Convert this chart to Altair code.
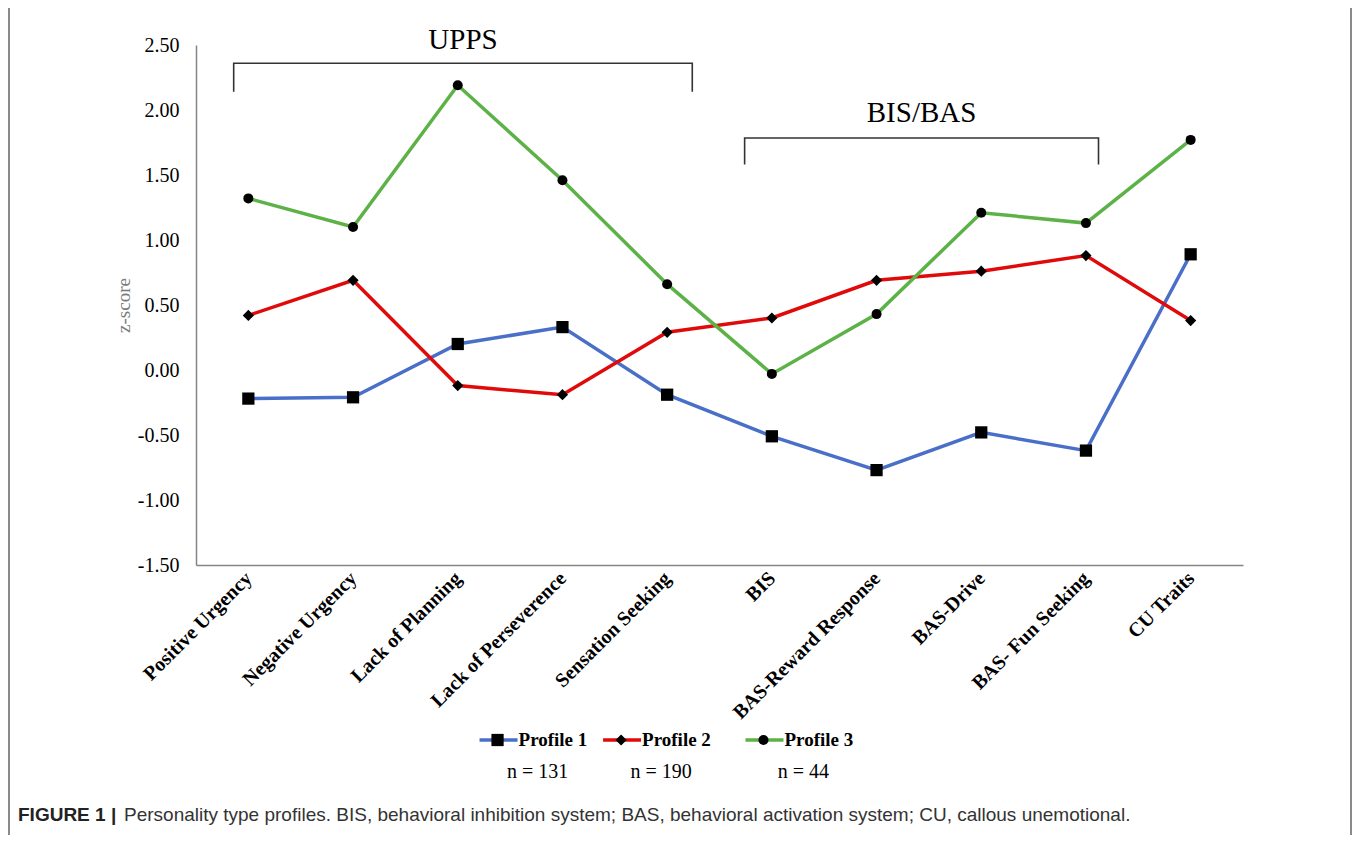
import altair as alt
import pandas as pd

# ---------------- data ----------------
categories = ["Positive Urgency", "Negative Urgency", "Lack of Planning",
              "Lack of Perseverence", "Sensation Seeking", "BIS",
              "BAS-Reward Response", "BAS-Drive", "BAS- Fun Seeking", "CU Traits"]
profiles = ["Profile 1", "Profile 2", "Profile 3"]
profile_n = ["n = 131", "n = 190", "n = 44"]
profile1 = [-0.22, -0.21, 0.20, 0.33, -0.19, -0.51, -0.77, -0.48, -0.62, 0.89]
profile2 = [0.42, 0.69, -0.12, -0.19, 0.29, 0.40, 0.69, 0.76, 0.88, 0.38]
profile3 = [1.32, 1.10, 2.19, 1.46, 0.66, -0.03, 0.43, 1.21, 1.13, 1.77]
y_ticks = [-1.5, -1.0, -0.5, 0.0, 0.5, 1.0, 1.5, 2.0, 2.5]

bracket_names = ["UPPS", "BIS/BAS"]
bracket_start = [-0.14, 4.74]
bracket_end = [4.24, 8.12]
bracket_top = [2.36, 1.785]
bracket_bottom = [2.14, 1.58]
bracket_label_y = [2.54, 1.98]

caption_bold = "FIGURE 1 |"
caption_text = ("Personality type profiles. BIS, behavioral inhibition system; "
                "BAS, behavioral activation system; CU, callous unemotional.")

# ---------------- styles / layout ----------------
colors = ["#4a6fc8", "#e10a0a", "#5cb247"]
shapes = ["square", "diamond", "circle"]
sizes = [150, 100, 140]
legend_pos = [2.38, 3.56, 4.92]
SERIF = "Liberation Serif"
SANS = "Liberation Sans"
AXIS_GRAY = "#858585"
W, H = 1047, 520

rows = []
for name, vals in zip(profiles, [profile1, profile2, profile3]):
    for i, v in enumerate(vals):
        rows.append({"idx": i, "category": categories[i], "profile": name, "z": v})
df = pd.DataFrame(rows)

brows = []
for n, s, e, t, b in zip(bracket_names, bracket_start, bracket_end, bracket_top, bracket_bottom):
    for o, (xx, yy) in enumerate([(s, b), (s, t), (e, t), (e, b)]):
        brows.append({"name": n, "o": o, "idx": xx, "z": yy})
bdf = pd.DataFrame(brows)
blab = pd.DataFrame({"name": bracket_names,
                     "idx": [(s + e) / 2 for s, e in zip(bracket_start, bracket_end)],
                     "z": bracket_label_y})

ldf = pd.DataFrame({"profile": profiles, "n": profile_n, "idx": legend_pos})

label_expr = "[" + ",".join("'" + c + "'" for c in categories) + "][datum.value]"

X = alt.X("idx:Q",
          scale=alt.Scale(domain=[-0.5, 9.5], nice=False, zero=False),
          axis=alt.Axis(values=list(range(10)), labelExpr=label_expr, labelAngle=-45,
                        labelAlign="right", labelBaseline="middle", labelLimit=400,
                        labelFont=SERIF, labelFontWeight="bold", labelFontSize=20,
                        labelColor="black", labelPadding=10, ticks=False, grid=False,
                        domainColor=AXIS_GRAY, domainWidth=1.5, title=None,
                        labelOverlap=False))
Y = alt.Y("z:Q",
          scale=alt.Scale(domain=[-1.5, 2.5], nice=False, zero=False),
          axis=alt.Axis(values=y_ticks,
                        labelExpr="datum.value < 0 ? '-' + format(-datum.value, '.2f') : format(datum.value, '.2f')",
                        labelFont=SERIF, labelFontSize=20, labelColor="black",
                        labelPadding=17, ticks=False, grid=False,
                        domainColor=AXIS_GRAY, domainWidth=1.5,
                        title="z-score", titleFont=SERIF, titleFontSize=19,
                        titleFontWeight="normal", titleColor="#7a7a7a",
                        titleX=-73, titleY=H / 2, titleAngle=-90,
                        titleBaseline="middle", titleAlign="center"))

color_scale = alt.Scale(domain=profiles, range=colors)
shape_scale = alt.Scale(domain=profiles, range=shapes)
size_scale = alt.Scale(domain=profiles, range=sizes)

lines = alt.Chart(df).mark_line(strokeWidth=3.5).encode(
    x=X, y=Y,
    color=alt.Color("profile:N", scale=color_scale, legend=None),
    detail="profile:N",
)
points = alt.Chart(df).mark_point(filled=True, color="black", opacity=1).encode(
    x=X, y=Y,
    shape=alt.Shape("profile:N", scale=shape_scale, legend=None),
    size=alt.Size("profile:N", scale=size_scale, legend=None),
)
brackets = alt.Chart(bdf).mark_line(color="#333333", strokeWidth=1.6, clip=False).encode(
    x=X, y=Y, detail="name:N", order="o:Q",
)
bracket_labels = alt.Chart(blab).mark_text(font=SERIF, fontSize=29, color="black",
                                           baseline="middle", clip=False).encode(
    x=X, y=Y, text="name:N",
)

leg_lines = alt.Chart(ldf).mark_rule(strokeWidth=3.5, xOffset=-18, x2Offset=20).encode(
    x=X, x2="idx:Q", y=alt.value(695),
    color=alt.Color("profile:N", scale=color_scale, legend=None),
)
leg_pts = alt.Chart(ldf).mark_point(filled=True, color="black", opacity=1).encode(
    x=X, y=alt.value(695),
    shape=alt.Shape("profile:N", scale=shape_scale, legend=None),
    size=alt.Size("profile:N", scale=size_scale, legend=None),
)
leg_text = alt.Chart(ldf).mark_text(font=SERIF, fontSize=19, fontWeight="bold",
                                    align="left", baseline="middle", dx=21, color="black").encode(
    x=X, y=alt.value(695), text="profile:N",
)
leg_n = alt.Chart(ldf).mark_text(font=SERIF, fontSize=20, align="center",
                                 baseline="middle", dx=40, color="black").encode(
    x=X, y=alt.value(727), text="n:N",
)

cap = pd.DataFrame({"a": [caption_bold], "b": [caption_text]})
cap1 = alt.Chart(cap).mark_text(font=SANS, fontSize=19, fontWeight="bold", align="left",
                                baseline="middle", color="#222222").encode(
    x=alt.value(-178), y=alt.value(770), text="a:N")
cap2 = alt.Chart(cap).mark_text(font=SANS, fontSize=19, align="left",
                                baseline="middle", color="#333333").encode(
    x=alt.value(-72), y=alt.value(770), text="b:N")
frame = alt.Chart(cap).mark_rect(fill=None, fillOpacity=0, stroke="#8a8a8a", strokeWidth=2).encode(
    x=alt.value(-187), x2=alt.value(1155), y=alt.value(-38), y2=alt.value(900))

chart = alt.layer(
    frame, brackets, bracket_labels, lines, points,
    leg_lines, leg_pts, leg_text, leg_n, cap1, cap2,
).properties(
    width=W, height=H,
    autosize=alt.AutoSizeParams(type="none"),
    padding={"left": 188, "top": 37, "right": 110, "bottom": 270},
    background="white",
).configure_view(stroke=None)

chart.save("out.html", embed_options={"renderer": "svg", "actions": False})
